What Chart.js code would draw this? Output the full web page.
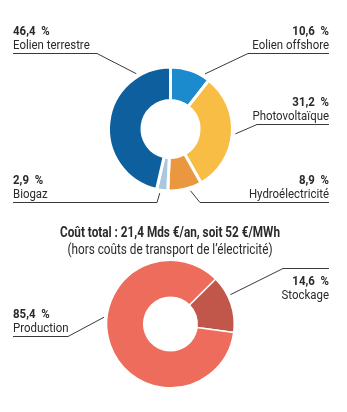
<!DOCTYPE html>
<html>
<head>
<meta charset="utf-8">
<script src="https://cdn.jsdelivr.net/npm/chart.js@4/dist/chart.umd.min.js"></script>
<style>
  body { margin: 0; background: #fff; }
  #wrap { position: relative; width: 347px; height: 412px; overflow: hidden; }
  canvas { position: absolute; left: 0; top: 0; }
  .title { position: absolute; left: 0; width: 340px; text-align: center; color: #2a2a2a;
           font-family: Roboto, sans-serif; white-space: nowrap; transform-origin: 170px 0; line-height: 1; }
  #t1 { top: 225px; font-size: 14px; font-weight: bold; transform: scaleX(0.84); }
  #t2 { top: 242px; font-size: 14px; transform: scaleX(0.84); }
</style>
</head>
<body>
<div id="wrap">
  <canvas id="mixChart" width="347" height="412"></canvas>
  <canvas id="costChart" width="347" height="412"></canvas>
  <div class="title" id="t1">Coût total : 21,4 Mds €/an, soit 52 €/MWh</div>
  <div class="title" id="t2">(hors coûts de transport de l’électricité)</div>
</div>
<script>
'use strict'

//++++++++++++++ Data ++++++++++++++//
let mixLabels = ['Eolien offshore', 'Photovoltaïque', 'Hydroélectricité', 'Biogaz', 'Eolien terrestre'];
let mixValues = [10.6, 31.2, 8.9, 2.9, 46.4];
let mixColors = ['#1b8bcd', '#f8bd45', '#e9983f', '#a9c7df', '#0d609d'];

let costLabels = ['Stockage', 'Production'];
let costValues = [14.6, 85.4];
let costColors = ['#c1574a', '#ee6c5b'];

//++++++++++++++ Label layout (side, elbow x, line y, position along arc) ++++++++++++++//
let mixCallouts = [
  { side: 'right', elbow: 248, lineY: 53, t: 0.84 },
  { side: 'right', elbow: 257, lineY: 124, t: 0.5 },
  { side: 'right', elbow: 200, lineY: 202, t: 0.36 },
  { side: 'left', elbow: 157, lineY: 202, t: 0.67 },
  { side: 'left', elbow: 97, lineY: 53, t: 0.81 }
];
let costCallouts = [
  { side: 'right', elbow: 283, lineY: 268, t: 0.36, nameY: 299, valueY: 285 },
  { side: 'left', elbow: 68, lineY: 336, t: 0.58 }
];

const LEFT_X = 13;
const RIGHT_X = 329;
const FONT = 'Roboto, sans-serif';
const SQUEEZE = 0.88;

function fmt(v) {
  return v.toFixed(1).replace('.', ',') + '  %';
}

// condensed look: draw text squeezed horizontally
function squeezedText(ctx, text, x, y) {
  ctx.save();
  ctx.translate(x, y);
  ctx.scale(SQUEEZE, 1);
  ctx.fillText(text, 0, 0);
  ctx.restore();
}

//++++++++++++++ Callout plugin ++++++++++++++//
let calloutPlugin = {
  id: 'callouts',
  afterDraw(chart, args, opts) {
    let ctx = chart.ctx;
    let meta = chart.getDatasetMeta(0);
    let labels = chart.data.labels;
    let values = chart.data.datasets[0].data;
    ctx.save();
    opts.items.forEach((c, i) => {
      let arc = meta.data[i];
      let a = arc.startAngle + (arc.endAngle - arc.startAngle) * c.t;
      let r = arc.outerRadius + 3;
      let ex = arc.x + Math.cos(a) * r;
      let ey = arc.y + Math.sin(a) * r;
      let sx = c.side === 'left' ? LEFT_X : RIGHT_X;

      ctx.strokeStyle = '#3a3a3a';
      ctx.lineWidth = 1;
      ctx.beginPath();
      ctx.moveTo(sx, c.lineY + 0.5);
      ctx.lineTo(c.elbow, c.lineY + 0.5);
      ctx.lineTo(ex, ey);
      ctx.stroke();

      let nameY = c.nameY || c.lineY - 4;
      let valueY = c.valueY || nameY - 14;
      ctx.fillStyle = '#2a2a2a';
      ctx.textAlign = c.side === 'left' ? 'left' : 'right';
      ctx.textBaseline = 'alphabetic';
      ctx.font = 'bold 13px ' + FONT;
      squeezedText(ctx, fmt(values[i]), sx, valueY);
      ctx.font = '13px ' + FONT;
      squeezedText(ctx, labels[i], sx, nameY);
    });
    ctx.restore();
  }
};

//++++++++++++++ Charts ++++++++++++++//
new Chart(document.getElementById('mixChart'), {
  type: 'doughnut',
  data: {
    labels: mixLabels,
    datasets: [{
      data: mixValues,
      backgroundColor: mixColors,
      borderColor: '#ffffff',
      borderWidth: 3
    }]
  },
  options: {
    responsive: false,
    animation: false,
    cutout: '46%',
    layout: { padding: { left: 107, right: 113, top: 65, bottom: 219 } },
    plugins: {
      legend: { display: false },
      tooltip: { enabled: false },
      callouts: { items: mixCallouts }
    }
  },
  plugins: [calloutPlugin]
});

new Chart(document.getElementById('costChart'), {
  type: 'doughnut',
  data: {
    labels: costLabels,
    datasets: [{
      data: costValues,
      backgroundColor: costColors,
      borderColor: '#ffffff',
      borderWidth: 1.5
    }]
  },
  options: {
    responsive: false,
    animation: false,
    cutout: '42%',
    rotation: 45,
    layout: { padding: { left: 106, right: 112, top: 259, bottom: 23 } },
    plugins: {
      legend: { display: false },
      tooltip: { enabled: false },
      callouts: { items: costCallouts }
    }
  },
  plugins: [calloutPlugin]
});
</script>
</body>
</html>
